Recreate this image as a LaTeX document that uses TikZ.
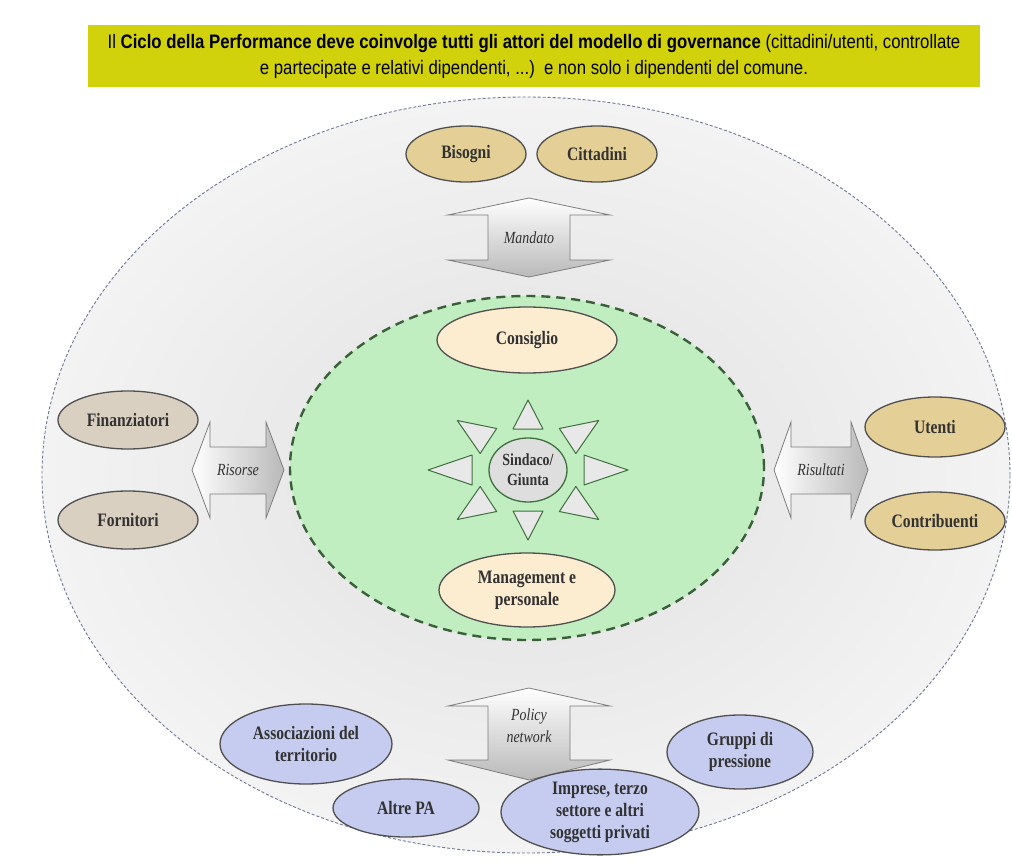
\documentclass[tikz,border=0pt]{standalone}
\usepackage{fontspec}
\usetikzlibrary{shapes.geometric,calc}

\newfontfamily\bannerfont{Liberation Sans}[FakeStretch=0.86]
\newfontfamily\labelfont{Liberation Serif}[FakeStretch=0.82]

\definecolor{bannerYellow}{RGB}{210,210,12}
\definecolor{ringLine}{RGB}{110,120,150}
\definecolor{ringIn}{RGB}{224,224,224}
\definecolor{ringOut}{RGB}{243,243,243}
\definecolor{coreFill}{RGB}{192,238,192}
\definecolor{coreLine}{RGB}{58,96,58}
\definecolor{blobLine}{RGB}{80,80,80}
\definecolor{labelGray}{RGB}{50,50,50}
\definecolor{tanFill}{RGB}{228,208,150}
\definecolor{greigeFill}{RGB}{218,208,194}
\definecolor{peachFill}{RGB}{252,236,208}
\definecolor{lilacFill}{RGB}{198,204,240}
\definecolor{sunFill}{RGB}{232,232,232}
\definecolor{sunLine}{RGB}{62,112,62}
\definecolor{arrowLine}{RGB}{125,125,125}

\begin{document}
\begin{tikzpicture}[
    x=1pt, y=-1pt,
    blob/.style={
        ellipse,
        draw=blobLine,
        line width=1.3pt,
        inner sep=0pt,
        align=center,
        text=labelGray,
        font=\labelfont\bfseries\fontsize{19}{22}\selectfont
    },
    tan/.style={blob, fill=tanFill},
    greige/.style={blob, fill=greigeFill},
    peach/.style={blob, fill=peachFill},
    lilac/.style={blob, fill=lilacFill},
    tri/.style={draw=sunLine, fill=sunFill, line width=1pt, line join=round},
    flow/.style={draw=arrowLine, line width=0.8pt, line join=miter},
    flowtext/.style={
        align=center,
        text=labelGray,
        font=\labelfont\itshape\fontsize{17}{22}\selectfont
    }
]
    \useasboundingbox[fill=white] (0,0) rectangle (1012,861);

    % --- Banner ---
    \node[fill=bannerYellow, minimum width=892pt, minimum height=62pt] (banner) at (534,56) {};
    \node[align=center, font=\bannerfont\fontsize{19.5}{26}\selectfont] (title) at (banner.center)
        {Il \textbf{Ciclo della Performance deve coinvolge tutti gli attori del modello di governance} (cittadini/utenti, controllate\\
         e partecipate e relativi dipendenti, ...)\ \ e non solo i dipendenti del comune.};

    % --- Rings ---
    \node[ellipse, minimum width=968pt, minimum height=756pt,
          inner color=ringIn, outer color=ringOut,
          draw=ringLine, line width=0.9pt, dash pattern=on 3pt off 2pt] (outer) at (526,475) {};
    \node[ellipse, minimum width=474pt, minimum height=344pt, fill=coreFill,
          draw=coreLine, line width=2.4pt, dash pattern=on 9pt off 6pt] (core) at (527,468) {};

    % --- Top ---
    \node[tan, minimum width=120pt, minimum height=56pt] (bisogni) at (466,154) {Bisogni};
    \node[tan, minimum width=120pt, minimum height=56pt] (cittadini) at (597,154) {Cittadini};
    \shade[flow, top color=white, bottom color=gray!55]
        (529,198) -- (610,215) -- (570,215) -- (570,260) -- (610,260) -- (529,277)
        -- (448,260) -- (488,260) -- (488,215) -- (448,215) -- cycle;
    \node[flowtext] (mandato) at (529,238) {Mandato};

    % --- Left ---
    \node[greige, minimum width=140pt, minimum height=58pt] (finanz) at (128,420) {Finanziatori};
    \node[greige, minimum width=140pt, minimum height=58pt] (fornit) at (128,520) {Fornitori};
    \shade[flow, left color=white, right color=gray!55]
        (192,470) -- (210,422) -- (210,447) -- (266,447) -- (266,422) -- (284,470)
        -- (266,518) -- (266,494) -- (210,494) -- (210,518) -- cycle;
    \node[flowtext] (risorse) at (238,470) {Risorse};

    % --- Right ---
    \node[tan, minimum width=140pt, minimum height=60pt] (utenti) at (935,427) {Utenti};
    \node[tan, minimum width=140pt, minimum height=58pt] (contrib) at (935,521) {Contribuenti};
    \shade[flow, left color=white, right color=gray!55]
        (774,470) -- (791,422) -- (791,447) -- (851,447) -- (851,422) -- (868,470)
        -- (851,518) -- (851,494) -- (791,494) -- (791,518) -- cycle;
    \node[flowtext] (risultati) at (821,470) {Risultati};

    % --- Core ---
    \node[peach, minimum width=180pt, minimum height=66pt] (consiglio) at (527,340) {Consiglio};
    \node[peach, minimum width=176pt, minimum height=74pt] (manag) at (527,590) {Management e\\personale};
    \node[blob, fill=sunFill!90!gray, draw=sunLine, minimum width=78pt, minimum height=64pt,
          font=\labelfont\bfseries\fontsize{17}{20}\selectfont] (sindaco) at (528,470) {Sindaco/\\Giunta};
    \foreach \a in {0,45,...,315} {
        \coordinate (b\a) at ($(sindaco.center)+({56*cos(\a)},{41*sin(\a)})$);
        \coordinate (t\a) at ($(sindaco.center)+({100*cos(\a)},{70*sin(\a)})$);
        \draw[tri] (t\a) -- ($(b\a)!15pt!90:(t\a)$) -- ($(b\a)!15pt!-90:(t\a)$) -- cycle;
    }

    % --- Bottom ---
    \shade[flow, top color=white, bottom color=gray!55]
        (529,688) -- (610,706) -- (570,706) -- (570,760) -- (610,760) -- (529,780)
        -- (448,760) -- (488,760) -- (488,706) -- (448,706) -- cycle;
    \node[flowtext] (policy) at (529,726) {Policy\\network};
    \node[lilac, minimum width=172pt, minimum height=80pt] (assoc) at (306,744) {Associazioni del\\territorio};
    \node[lilac, minimum width=146pt, minimum height=58pt] (altrepa) at (406,808) {Altre PA};
    \node[lilac, minimum width=198pt, minimum height=84pt] (imprese) at (600,812) {Imprese, terzo\\settore e altri\\soggetti privati};
    \node[lilac, minimum width=146pt, minimum height=74pt] (gruppi) at (740,752) {Gruppi di\\pressione};
\end{tikzpicture}
\end{document}
